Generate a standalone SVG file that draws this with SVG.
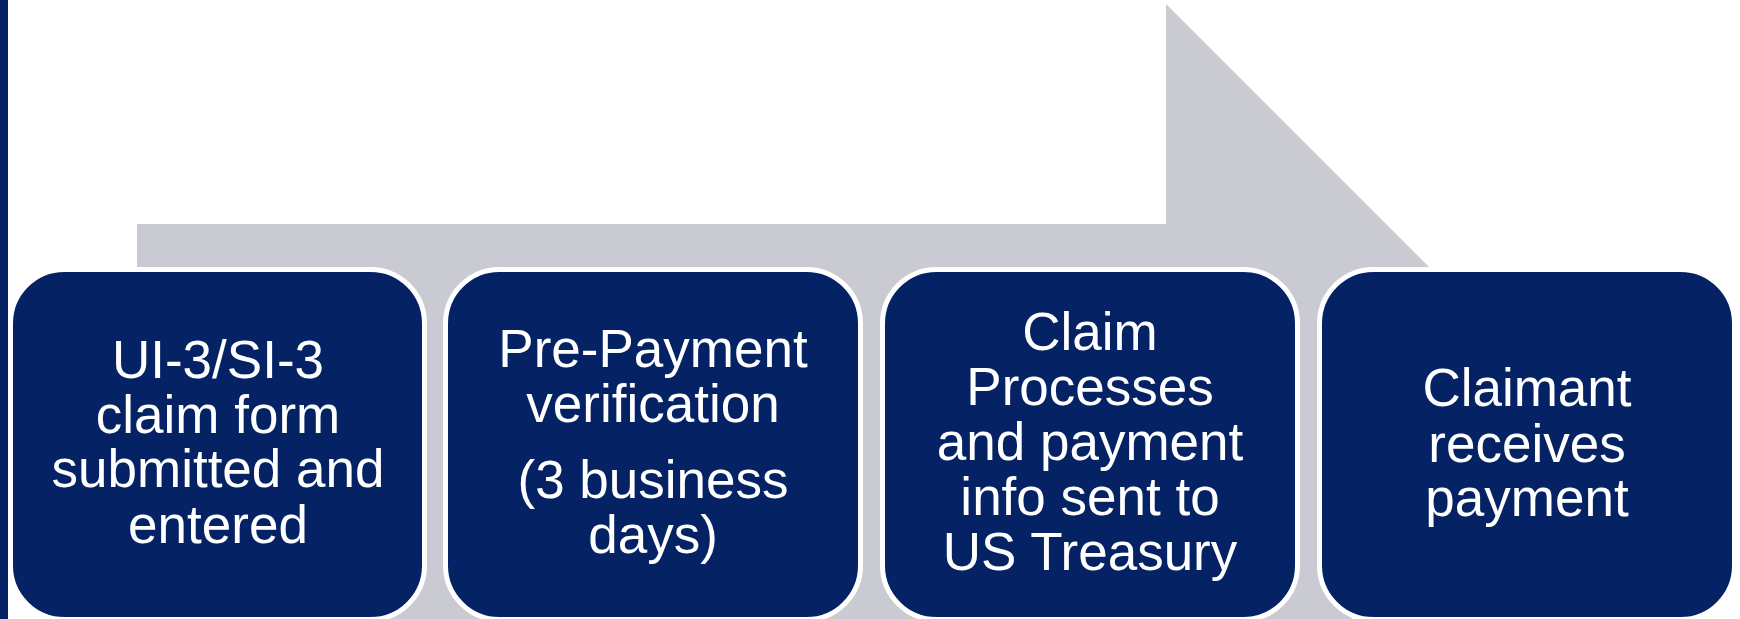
<svg xmlns="http://www.w3.org/2000/svg" width="1740" height="619" viewBox="0 0 1740 619">
<style>
.box{fill:#042264;stroke:#ffffff;stroke-width:5}
.t{font-family:"Liberation Sans",Arial,sans-serif;font-size:53px;fill:#ffffff;text-anchor:middle}
</style>
<rect x="0" y="0" width="1740" height="619" fill="#ffffff"/>
<rect x="0" y="0" width="8" height="619" fill="#042163"/>
<g id="connectors">
<polygon points="137,224 1166,224 1166,4 1566,404 1351,619 137,619" fill="#C9CAD2"/>
</g>
<g id="node1">
<rect class="box" x="10.5" y="269.5" width="414" height="350" rx="54"/>
<text class="t" x="218" y="378">UI-3/SI-3</text>
<text class="t" x="218" y="433">claim form</text>
<text class="t" x="218" y="487">submitted and</text>
<text class="t" x="218" y="543">entered</text>
</g>
<g id="node2">
<rect class="box" x="445.5" y="269.5" width="415" height="350" rx="54"/>
<text class="t" x="653" y="367">Pre-Payment</text>
<text class="t" x="653" y="422">verification</text>
<text class="t" x="653" y="498">(3 business</text>
<text class="t" x="653" y="553">days)</text>
</g>
<g id="node3">
<rect class="box" x="882.5" y="269.5" width="415" height="350" rx="54"/>
<text class="t" x="1090" y="350">Claim</text>
<text class="t" x="1090" y="405">Processes</text>
<text class="t" x="1090" y="460">and payment</text>
<text class="t" x="1090" y="515">info sent to</text>
<text class="t" x="1090" y="570">US Treasury</text>
</g>
<g id="node4">
<rect class="box" x="1319.5" y="269.5" width="415" height="350" rx="54"/>
<text class="t" x="1527" y="406">Claimant</text>
<text class="t" x="1527" y="462">receives</text>
<text class="t" x="1527" y="516">payment</text>
</g>
</svg>
